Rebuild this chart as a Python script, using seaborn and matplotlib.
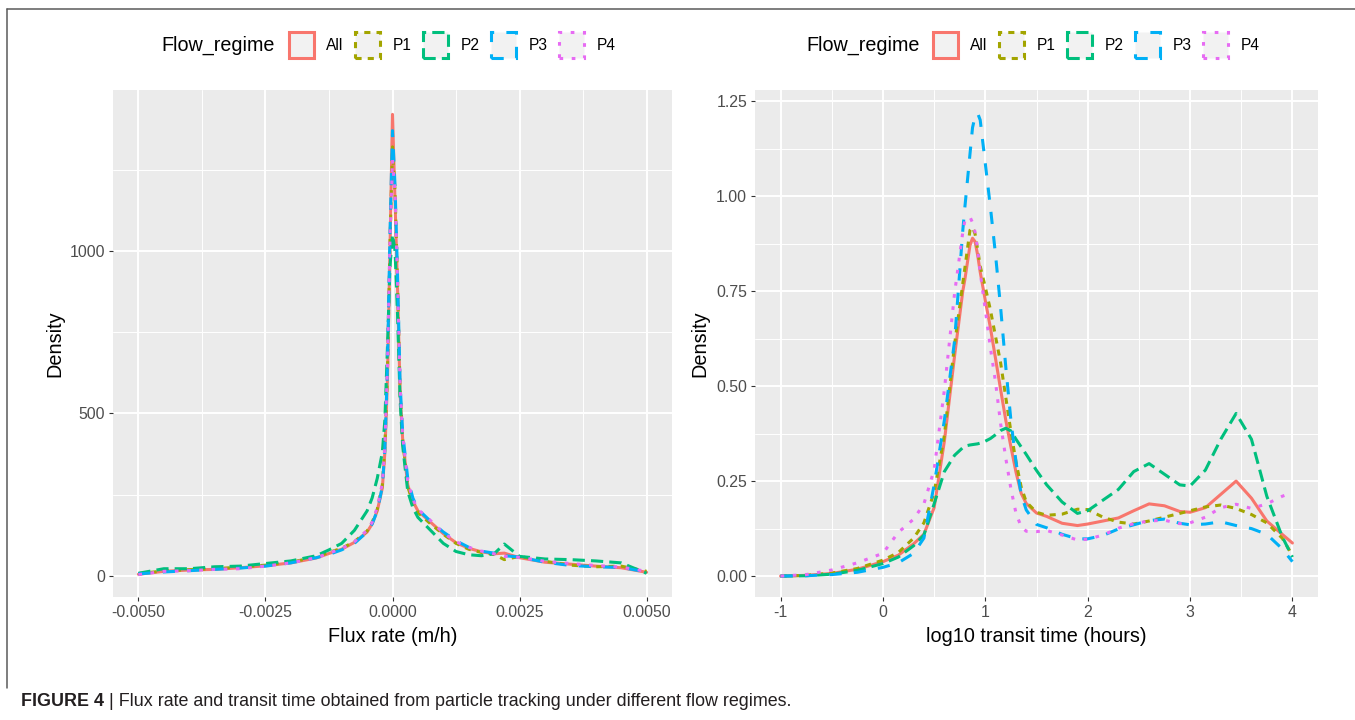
import numpy as np
import pandas as pd
import matplotlib
matplotlib.use("Agg")
import matplotlib.pyplot as plt
import seaborn as sns
from matplotlib.patches import Patch
from matplotlib.lines import Line2D

# ---------------- data ----------------
regimes = ["All", "P1", "P2", "P3", "P4"]
colors = ["#F8766D", "#A3A500", "#00BF7D", "#00B0F6", "#E76BF3"]
dash_units = ["", (2, 2), (4, 2), (4, 4), (1.2, 2.8)]

# Left panel: flux rate density
flux_x = [-0.005, -0.0045, -0.004, -0.0035, -0.003, -0.0025, -0.002, -0.0015,
          -0.00125, -0.001, -0.00075, -0.0005, -0.0004, -0.0003, -0.0002,
          -0.00015, -0.0001, -0.00005, 0.0, 0.00005, 0.0001, 0.00015, 0.0002,
          0.0003, 0.0004, 0.0005, 0.00075, 0.001, 0.00125, 0.0015, 0.00175,
          0.002, 0.0022, 0.0025, 0.003, 0.0035, 0.004, 0.0045, 0.005]
flux_all = [5, 14, 18, 20, 25, 31, 40, 55, 69, 82, 103, 135, 160, 200, 270,
            380, 600, 1000, 1420, 1150, 880, 560, 420, 280, 230, 200, 165,
            130, 102, 85, 74, 68, 70, 56, 42, 36, 30, 25, 11]
flux_p1 = [7, 15, 19, 22, 27, 33, 42, 58, 72, 85, 105, 138, 165, 205, 280,
           400, 620, 1020, 1320, 1180, 900, 570, 420, 275, 225, 195, 160,
           128, 100, 82, 72, 66, 50, 60, 45, 33, 28, 30, 14]
flux_p2 = [8, 22, 22, 28, 30, 38, 46, 62, 80, 100, 140, 200, 240, 300, 380,
           480, 700, 950, 1050, 1000, 800, 540, 400, 260, 210, 180, 140,
           100, 75, 65, 62, 68, 98, 60, 52, 50, 46, 40, 8]
flux_p3 = [6, 12, 16, 20, 24, 30, 40, 56, 66, 80, 100, 135, 160, 200, 275,
           390, 640, 1050, 1370, 1200, 920, 590, 440, 300, 240, 205, 168,
           135, 108, 88, 76, 70, 62, 58, 42, 32, 28, 26, 12]
flux_p4 = [4, 14, 16, 20, 22, 30, 40, 56, 70, 84, 105, 140, 165, 210, 285,
           400, 640, 1030, 1280, 1180, 900, 580, 430, 290, 235, 205, 170,
           132, 105, 88, 76, 68, 60, 57, 45, 38, 32, 27, 14]

# Right panel: log10 transit time density
tt_x = [-1.0, -0.75, -0.5, -0.25, 0.0, 0.15, 0.3, 0.4, 0.5, 0.6, 0.7, 0.78,
        0.8, 0.85, 0.875, 0.9, 0.925, 0.95, 1.0, 1.05, 1.1, 1.15, 1.2, 1.25,
        1.3, 1.35, 1.4, 1.5, 1.6, 1.75, 1.9, 2.0, 2.15, 2.3, 2.45, 2.6, 2.75,
        2.9, 3.0, 3.15, 3.3, 3.45, 3.6, 3.75, 3.9, 4.0]
tt_all = [0.0, 0.002, 0.007, 0.018, 0.038, 0.055, 0.085, 0.11, 0.18, 0.355,
          0.58, 0.75, 0.78, 0.87, 0.889, 0.88, 0.845, 0.80, 0.725, 0.653,
          0.572, 0.49, 0.41, 0.34, 0.273, 0.218, 0.191, 0.166, 0.157, 0.139,
          0.133, 0.137, 0.145, 0.153, 0.172, 0.19, 0.185, 0.17, 0.168, 0.18,
          0.215, 0.25, 0.205, 0.145, 0.11, 0.087]
tt_p1 = [0.0, 0.002, 0.008, 0.02, 0.042, 0.062, 0.1, 0.14, 0.22, 0.37, 0.61,
         0.77, 0.81, 0.91, 0.918, 0.90, 0.86, 0.815, 0.76, 0.70, 0.63, 0.56,
         0.47, 0.38, 0.30, 0.235, 0.195, 0.168, 0.16, 0.163, 0.176, 0.175,
         0.155, 0.142, 0.137, 0.145, 0.155, 0.165, 0.172, 0.182, 0.187,
         0.178, 0.162, 0.14, 0.10, 0.055]
tt_p2 = [0.0, 0.001, 0.005, 0.015, 0.033, 0.05, 0.08, 0.108, 0.19, 0.275,
         0.318, 0.338, 0.342, 0.345, 0.346, 0.347, 0.348, 0.35, 0.355, 0.362,
         0.372, 0.383, 0.389, 0.382, 0.36, 0.34, 0.32, 0.278, 0.24, 0.195,
         0.165, 0.172, 0.20, 0.228, 0.275, 0.296, 0.268, 0.24, 0.237, 0.279,
         0.36, 0.428, 0.36, 0.21, 0.104, 0.05]
tt_p3 = [0.0, 0.001, 0.004, 0.01, 0.023, 0.035, 0.06, 0.10, 0.24, 0.41, 0.62,
         0.91, 0.97, 1.11, 1.18, 1.21, 1.218, 1.20, 1.085, 0.97, 0.845, 0.705,
         0.55, 0.41, 0.30, 0.215, 0.174, 0.136, 0.127, 0.11, 0.098, 0.098,
         0.107, 0.124, 0.135, 0.146, 0.15, 0.139, 0.135, 0.137, 0.143, 0.133,
         0.125, 0.11, 0.072, 0.038]
tt_p4 = [0.0, 0.004, 0.016, 0.035, 0.06, 0.115, 0.15, 0.19, 0.28, 0.49, 0.745,
         0.905, 0.935, 0.945, 0.93, 0.905, 0.86, 0.80, 0.70, 0.60, 0.51, 0.40,
         0.31, 0.23, 0.165, 0.13, 0.118, 0.117, 0.12, 0.108, 0.095, 0.097,
         0.108, 0.126, 0.138, 0.145, 0.147, 0.138, 0.14, 0.155, 0.18, 0.189,
         0.178, 0.19, 0.21, 0.22]

flux_xticks = [-0.005, -0.0025, 0.0, 0.0025, 0.005]
flux_xticklabels = ["-0.0050", "-0.0025", "0.0000", "0.0025", "0.0050"]
flux_yticks = [0, 500, 1000]
flux_yticklabels = ["0", "500", "1000"]
tt_xticks = [-1, 0, 1, 2, 3, 4]
tt_xticklabels = ["-1", "0", "1", "2", "3", "4"]
tt_yticks = [0.0, 0.25, 0.5, 0.75, 1.0, 1.25]
tt_yticklabels = ["0.00", "0.25", "0.50", "0.75", "1.00", "1.25"]

legend_title = "Flow_regime"
flux_xlabel = "Flux rate (m/h)"
tt_xlabel = "log10 transit time (hours)"
ylabel = "Density"
caption_bold = "FIGURE 4"
caption_text = " | Flux rate and transit time obtained from particle tracking under different flow regimes."

# ---------------- style ----------------
sns.set_theme(style="darkgrid")
plt.rcParams["font.family"] = ["Liberation Sans", "DejaVu Sans"]
plt.rcParams["axes.unicode_minus"] = False
plt.rcParams["lines.scale_dashes"] = True

W, H = 1355, 720
fig = plt.figure(figsize=(W / 100, H / 100), dpi=100)
fig.patch.set_facecolor("white")


def axrect(l, t, r, b):
    return [l / W, 1 - b / H, (r - l) / W, (b - t) / H]


ax1 = fig.add_axes(axrect(113, 90, 672, 597))
ax2 = fig.add_axes(axrect(755, 90, 1318, 597))


def long_df(x, series):
    frames = []
    for name, vals in zip(regimes, series):
        frames.append(pd.DataFrame({"x": x, "density": vals, "Flow_regime": name}))
    return pd.concat(frames, ignore_index=True)


palette = dict(zip(regimes, colors))
dashes = dict(zip(regimes, dash_units))

df_flux = long_df(flux_x, [flux_all, flux_p1, flux_p2, flux_p3, flux_p4])
df_tt = long_df(tt_x, [tt_all, tt_p1, tt_p2, tt_p3, tt_p4])

for ax, df in [(ax1, df_flux), (ax2, df_tt)]:
    sns.lineplot(data=df, x="x", y="density", hue="Flow_regime",
                 style="Flow_regime", hue_order=regimes, style_order=regimes,
                 palette=palette, dashes=dashes, linewidth=2.2,
                 estimator=None, legend=False, ax=ax)


def style_axes(ax, xlim, ylim, xt, xtl, yt, ytl, xminor, yminor, xlabel,
               ylab_x, xlab_y):
    ax.set_facecolor("#EBEBEB")
    for s in ax.spines.values():
        s.set_visible(False)
    ax.set_xlim(xlim)
    ax.set_ylim(ylim)
    ax.set_xticks(xt)
    ax.set_xticklabels(xtl)
    ax.set_yticks(yt)
    ax.set_yticklabels(ytl)
    ax.set_xticks(xminor, minor=True)
    ax.set_yticks(yminor, minor=True)
    ax.grid(True, which="major", color="white", linewidth=1.4)
    ax.grid(True, which="minor", color="white", linewidth=0.7)
    ax.set_axisbelow(True)
    ax.tick_params(which="major", length=3.0, width=0.8, color="#333333",
                   labelsize=11.4, labelcolor="#4D4D4D", pad=2.6,
                   bottom=True, left=True)
    ax.tick_params(which="minor", length=0)
    ax.set_xlabel(xlabel, fontsize=14.3, color="black")
    ax.set_ylabel(ylabel, fontsize=14.3, color="black")
    ax.xaxis.set_label_coords(0.5, xlab_y)
    ax.yaxis.set_label_coords(ylab_x, 0.5)
    ax.xaxis.label.set_va("center")
    ax.yaxis.label.set_va("center")
    ax.yaxis.label.set_ha("center")


style_axes(ax1, (-0.0055, 0.0055), (-65, 1495), flux_xticks, flux_xticklabels,
           flux_yticks, flux_yticklabels,
           [-0.00375, -0.00125, 0.00125, 0.00375], [250, 750, 1250],
           flux_xlabel, (55 - 113) / 559, (597 - 636) / 507)
style_axes(ax2, (-1.25, 4.25), (-0.055, 1.279), tt_xticks, tt_xticklabels,
           tt_yticks, tt_yticklabels,
           [-0.5, 0.5, 1.5, 2.5, 3.5], [0.125, 0.375, 0.625, 0.875, 1.125],
           tt_xlabel, (700 - 755) / 563, (597 - 636) / 507)

# ---------------- legends ----------------
handles = []
for c, d in zip(colors, dash_units):
    ls = "solid" if d == "" else (0, d)
    handles.append(Patch(facecolor="#F2F2F2", edgecolor=c, linewidth=2.2,
                         linestyle=ls))

for title_x, box_x in [(161, 288.5), (806, 932.5)]:
    fig.text(title_x / W, 1 - 45 / H, legend_title, fontsize=14.2,
             ha="left", va="center", color="black")
    leg = fig.legend(handles, regimes, loc="center left",
                     bbox_to_anchor=(box_x / W, 1 - 45 / H), ncol=5,
                     frameon=False, borderpad=0, borderaxespad=0,
                     handlelength=1.61, handleheight=2.1, handletextpad=0.8,
                     columnspacing=0.75, fontsize=11.2)
    for t in leg.get_texts():
        t.set_color("black")

# ---------------- frame and caption ----------------
fig.add_artist(Line2D([7.5 / W, 1.0], [1 - 9 / H, 1 - 9 / H],
                      transform=fig.transFigure, color="#5A5A5A", lw=1.1))
fig.add_artist(Line2D([7.5 / W, 7.5 / W], [1 - 9 / H, 1 - 688 / H],
                      transform=fig.transFigure, color="#5A5A5A", lw=1.1))

t_bold = fig.text(21 / W, 1 - 701 / H, caption_bold, fontsize=12.9,
                  fontweight="bold", ha="left", va="center", color="#231F20")
renderer = fig.canvas.get_renderer()
bb = t_bold.get_window_extent(renderer=renderer)
fig.text(bb.x1 / W, 1 - 701 / H, caption_text, fontsize=12.9,
         ha="left", va="center", color="#231F20")

fig.savefig("out.png", dpi=100)
